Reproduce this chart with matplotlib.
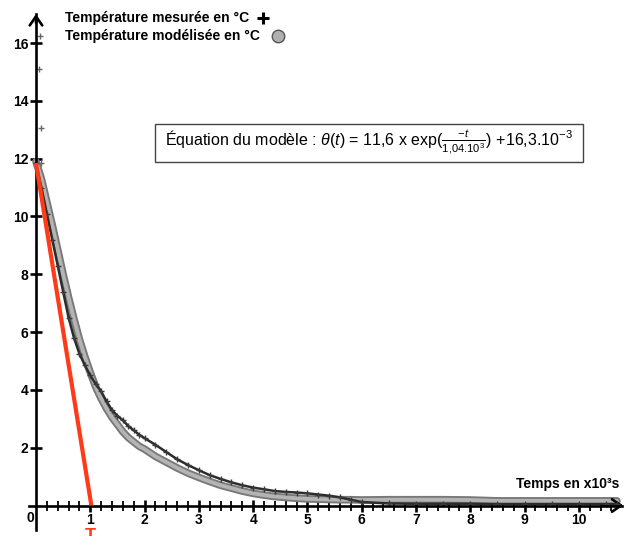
import matplotlib
matplotlib.use("Agg")
import matplotlib.pyplot as plt
from matplotlib.ticker import FixedLocator
from matplotlib.patches import Rectangle

plt.rcParams['font.family'] = ['Liberation Sans', 'DejaVu Sans']
plt.rcParams['mathtext.fontset'] = 'custom'
plt.rcParams['mathtext.rm'] = 'Liberation Sans'
plt.rcParams['mathtext.it'] = 'Liberation Sans:italic'
plt.rcParams['mathtext.bf'] = 'Liberation Sans:bold'

# ---------------- data ----------------
temps = [0.0, 0.1, 0.2, 0.3, 0.4, 0.5, 0.6, 0.7, 0.8, 0.9, 1.0, 1.1, 1.2, 1.3, 1.4,
         1.5, 1.6, 1.7, 1.8, 1.9, 2.0, 2.2, 2.4, 2.6, 2.8, 3.0, 3.2, 3.4, 3.6, 3.8,
         4.0, 4.2, 4.4, 4.6, 4.8, 5.0, 5.2, 5.4, 5.6, 5.8, 6.0, 6.5, 7.0, 7.5, 8.0,
         8.5, 9.0, 9.5, 10.0, 10.5, 10.7]
modele = [11.9, 11.3, 10.5, 9.7, 8.85, 8.0, 7.2, 6.45, 5.75, 5.15, 4.6, 4.1, 3.7, 3.35, 3.05,
          2.8, 2.55, 2.35, 2.2, 2.05, 1.95, 1.7, 1.5, 1.3, 1.12, 0.97, 0.83, 0.7, 0.6, 0.5,
          0.42, 0.36, 0.31, 0.28, 0.25, 0.23, 0.22, 0.21, 0.2, 0.2, 0.19, 0.2, 0.2, 0.2, 0.19,
          0.16, 0.16, 0.16, 0.16, 0.16, 0.16]
mesure = [11.85, 11.0, 10.1, 9.2, 8.3, 7.4, 6.5, 5.8, 5.25, 4.85, 4.5, 4.2, 3.95, 3.6, 3.3,
          3.1, 2.95, 2.75, 2.6, 2.45, 2.33, 2.1, 1.85, 1.6, 1.4, 1.22, 1.05, 0.92, 0.8, 0.7,
          0.62, 0.56, 0.5, 0.47, 0.45, 0.42, 0.38, 0.34, 0.28, 0.2, 0.12, 0.07, 0.06, 0.06, 0.06,
          0.05, 0.05, 0.05, 0.05, 0.05, 0.05]
# first isolated measured points close to the vertical axis
mesure_debut_t = [0.07, 0.06, 0.09, 0.10]
mesure_debut_v = [16.25, 15.1, 13.05, 11.85]
# tangent at origin
tangente_t = [0.0, 1.02]
tangente_v = [11.85, 0.0]

xticks_major = [1, 2, 3, 4, 5, 6, 7, 8, 9, 10]
yticks_major = [2, 4, 6, 8, 10, 12, 14, 16]

# ---------------- figure ----------------
fig = plt.figure(figsize=(6.37, 5.36), dpi=100)
ax = fig.add_axes([0, 0, 1, 1])
ax.set_xlim(-0.663, 11.07)
ax.set_ylim(-1.055, 17.49)
ax.set_facecolor('white')

for s in ['top', 'right']:
    ax.spines[s].set_visible(False)
ax.spines['left'].set_position(('data', 0))
ax.spines['bottom'].set_position(('data', 0))
ax.spines['left'].set_bounds(-0.85, 17.0)
ax.spines['bottom'].set_bounds(-0.13, 10.8)
for s in ['left', 'bottom']:
    ax.spines[s].set_linewidth(1.9)
    ax.spines[s].set_zorder(5)

ax.set_xticks(xticks_major)
ax.set_yticks(yticks_major)
minor = [round(i * 0.2, 1) for i in range(1, 54) if (i % 5) != 0]
ax.xaxis.set_minor_locator(FixedLocator(minor))
ax.tick_params(axis='both', which='major', direction='inout', length=9, width=1.9,
               labelsize=10, pad=1)
ax.tick_params(axis='x', which='minor', direction='inout', length=7, width=1.3)
for lbl in ax.get_xticklabels() + ax.get_yticklabels():
    lbl.set_fontweight('bold')

# arrows
ax.annotate('', xy=(0, 17.1), xytext=(0, 16.6), annotation_clip=False,
            arrowprops=dict(arrowstyle='->,head_length=0.65,head_width=0.45', lw=1.9, color='k'))
ax.annotate('', xy=(10.87, 0), xytext=(10.4, 0), annotation_clip=False,
            arrowprops=dict(arrowstyle='->,head_length=0.65,head_width=0.45', lw=1.9, color='k'))

# model band (gray circles look)
ax.plot(temps, modele, color='#787878', lw=5.5, solid_capstyle='round', zorder=2)
ax.plot(temps, modele, color='#b4b4b4', lw=2.8, solid_capstyle='round', zorder=2)

# measured
ax.plot(temps, mesure, color='#2c2c2c', lw=1.8, zorder=3)
ax.plot(temps, mesure, '+', ms=4, mew=1.0, color='#3a3a3a', zorder=3)
ax.plot(mesure_debut_t, mesure_debut_v, '+', ms=5, mew=1.0, color='#666666',
        linestyle='none', zorder=3)

# tangent
ax.plot(tangente_t, tangente_v, color='#ff3a18', lw=3, zorder=6, solid_capstyle='butt')
ax.text(1.0, -0.78, 'T', color='#ff3a18', fontsize=13, fontweight='bold',
        ha='center', va='top', zorder=6)

# origin label and axis title
ax.text(-0.11, -0.42, '0', fontsize=10, fontweight='bold', ha='center', va='center')
ax.text(10.75, 0.74, 'Temps en x10³s', fontsize=10, fontweight='bold',
        ha='right', va='center')

# legend-like texts
ax.text(0.53, 16.87, 'Température mesurée en °C', fontsize=10, fontweight='bold',
        ha='left', va='center')
ax.text(0.53, 16.25, 'Température modélisée en °C', fontsize=10, fontweight='bold',
        ha='left', va='center')
ax.plot([4.18], [16.87], marker='+', ms=9, mew=2.2, color='k', linestyle='none')
ax.plot([4.46], [16.25], marker='o', ms=9, mfc='#b0b0b0', mec='#555555', mew=1.0,
        linestyle='none')

# equation box
ax.add_patch(Rectangle((2.19, 11.89), 7.88, 1.31, fill=False, edgecolor='#444444',
                       lw=1.0, zorder=4))
ax.text(2.38, 12.54,
        r'Équation du modèle : $\mathit{\theta(t)}$ = 11,6 x exp($\frac{-t}{1{,}04.10^3}$) +16,3.10$^{-3}$',
        fontsize=11.5, ha='left', va='center', zorder=4)

fig.savefig('out.png', dpi=100, facecolor='white')
